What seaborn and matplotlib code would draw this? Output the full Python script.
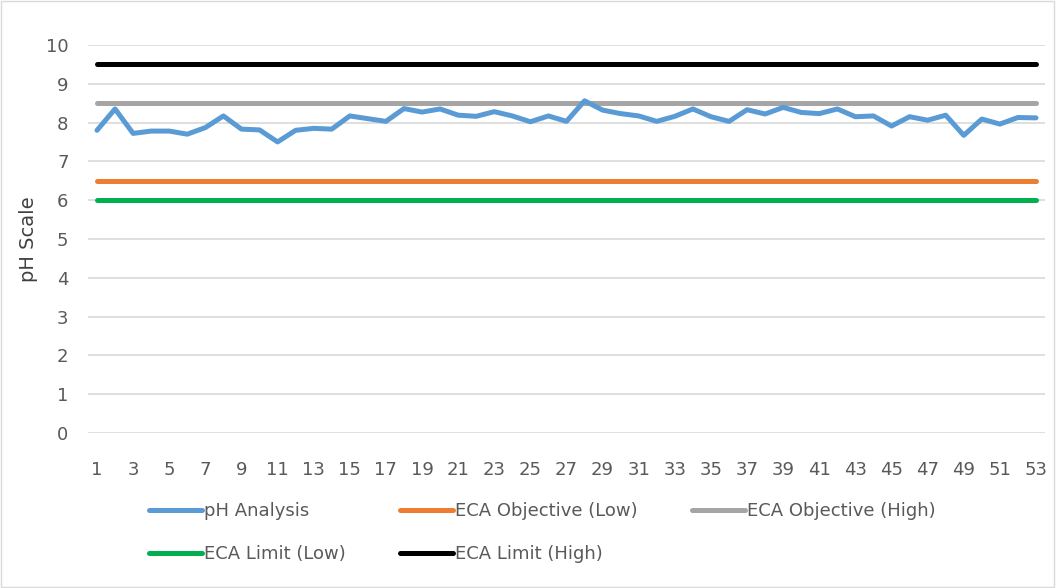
import matplotlib
matplotlib.use("Agg")
import matplotlib.pyplot as plt
from matplotlib.patches import Rectangle
import seaborn as sns
import pandas as pd

samples = list(range(1, 54))
ph_values = [7.80, 8.35, 7.72, 7.78, 7.78, 7.70, 7.87, 8.17, 7.83, 7.81,
             7.50, 7.80, 7.85, 7.83, 8.17, 8.10, 8.03, 8.36, 8.27, 8.35,
             8.19, 8.16, 8.28, 8.17, 8.02, 8.17, 8.03, 8.56, 8.32, 8.23,
             8.17, 8.03, 8.16, 8.35, 8.15, 8.03, 8.33, 8.22, 8.39, 8.26,
             8.23, 8.35, 8.15, 8.17, 7.91, 8.15, 8.06, 8.19, 7.67, 8.09,
             7.96, 8.13, 8.12]
obj_low = 6.5
obj_high = 8.5
lim_low = 6.0
lim_high = 9.5

series_names = ["pH Analysis", "ECA Objective (Low)", "ECA Objective (High)",
                "ECA Limit (Low)", "ECA Limit (High)"]
colors = ["#5B9BD5", "#ED7D31", "#A5A5A5", "#00B050", "#000000"]

n = len(samples)
df = pd.concat([
    pd.DataFrame({"x": samples, "y": ph_values, "series": series_names[0]}),
    pd.DataFrame({"x": samples, "y": [obj_low] * n, "series": series_names[1]}),
    pd.DataFrame({"x": samples, "y": [obj_high] * n, "series": series_names[2]}),
    pd.DataFrame({"x": samples, "y": [lim_low] * n, "series": series_names[3]}),
    pd.DataFrame({"x": samples, "y": [lim_high] * n, "series": series_names[4]}),
])

sns.set_theme(style="white")
plt.rcParams["font.family"] = ["Liberation Sans Narrow", "DejaVu Sans"]

fig = plt.figure(figsize=(10.56, 5.88), dpi=100)
ax = fig.add_axes([0.0833, 0.2636, 0.9063, 0.66])

# flat reference lines first, pH on top
order = [1, 2, 3, 4, 0]
for i in order:
    sub = df[df["series"] == series_names[i]]
    sns.lineplot(data=sub, x="x", y="y", ax=ax, color=colors[i], linewidth=3.6,
                 label=series_names[i], solid_capstyle="round", zorder=3 if i == 0 else 2)

ax.set_xlim(0.5, 53.5)
ax.set_ylim(0, 10)
ax.set_yticks(range(0, 11))
ax.set_xticks(samples[::2])
ax.grid(axis="y", color="#D9D9D9", linewidth=1.2)
ax.grid(axis="x", visible=False)
for s in ax.spines.values():
    s.set_visible(False)
ax.tick_params(axis="both", length=0, labelsize=13, colors="#595959")
ax.tick_params(axis="x", pad=20)
ax.tick_params(axis="y", pad=14)
ax.set_xlabel("")
ax.set_ylabel("pH Scale", fontsize=14, color="#404040", labelpad=0)
ax.yaxis.set_label_coords(-0.052, 0.5)

handles, labels = ax.get_legend_handles_labels()
lookup = dict(zip(labels, handles))
leg_order = [series_names[0], series_names[3], series_names[1], series_names[4], series_names[2]]
ax.legend([lookup[k] for k in leg_order], leg_order, ncol=3, frameon=False,
          loc="upper left", bbox_to_anchor=(0.126, 0.174), bbox_transform=fig.transFigure,
          fontsize=13, handlelength=2.9, handletextpad=0.15, columnspacing=3.0,
          labelspacing=1.4, labelcolor="#595959")

fig.patches.append(Rectangle((0.001, 0.001), 0.997, 0.997, transform=fig.transFigure,
                             fill=False, edgecolor="#D9D9D9", linewidth=1))

fig.savefig("out.png", dpi=100)
